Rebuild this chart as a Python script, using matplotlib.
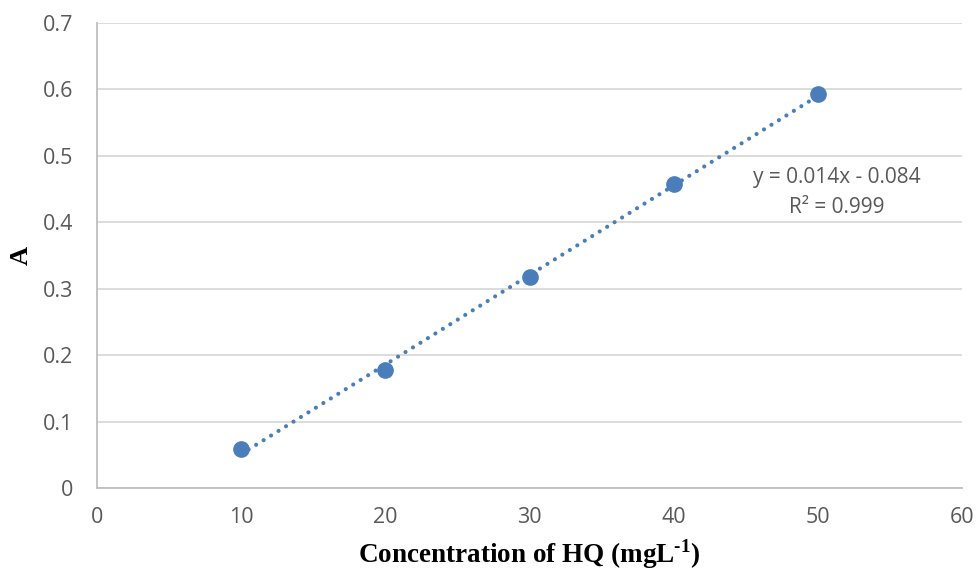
import numpy as np
import matplotlib
matplotlib.use("Agg")
import matplotlib.pyplot as plt

# Calibration data: hydroquinone concentration vs absorbance
concentration = [10, 20, 30, 40, 50]
absorbance = [0.059, 0.177, 0.317, 0.457, 0.593]
x_ticks = [0, 10, 20, 30, 40, 50, 60]
y_ticks = [0, 0.1, 0.2, 0.3, 0.4, 0.5, 0.6, 0.7]
equation_text = "y = 0.014x - 0.084"
r2_text = "R² = 0.999"

plt.rcParams["mathtext.fontset"] = "custom"
plt.rcParams["mathtext.bf"] = "Liberation Serif:bold"
plt.rcParams["mathtext.rm"] = "Liberation Serif:bold"

blue = "#4a7ebb"
grey_text = "#595959"
grid_col = "#d9d9d9"

fig = plt.figure(figsize=(9.76, 5.71), dpi=100)
ax = fig.add_axes([0.0994, 0.1454, 0.8863, 0.8143])

# linear trendline fitted to the points
slope, intercept = np.polyfit(concentration, absorbance, 1)
xs = np.array([min(concentration), max(concentration)])
ax.plot(xs, slope * xs + intercept, linestyle=(0, (0.01, 2.1)), color=blue,
        linewidth=3.0, dash_capstyle="round", zorder=2)

ax.plot(concentration, absorbance, "o", color=blue, markersize=11, zorder=3)

ax.set_xlim(0, 60)
ax.set_ylim(0, 0.7)
ax.set_xticks(x_ticks)
ax.set_yticks(y_ticks)
ax.set_xticklabels([str(v) for v in x_ticks])
ax.set_yticklabels(["0" if v == 0 else f"{v:.1f}" for v in y_ticks])

ax.grid(axis="y", color=grid_col, linewidth=1.3)
ax.set_axisbelow(True)
for side in ("top", "right"):
    ax.spines[side].set_visible(False)
for side in ("left", "bottom"):
    ax.spines[side].set_color("#bfbfbf")
    ax.spines[side].set_linewidth(1.3)
ax.tick_params(length=0, labelsize=15.5, labelcolor=grey_text)
ax.tick_params(axis="y", pad=17)
ax.tick_params(axis="x", pad=14)
for lab in ax.get_xticklabels() + ax.get_yticklabels():
    lab.set_family("Open Sans")

ax.set_xlabel(r"Concentration of HQ (mgL$^{\mathbf{\text{-}1}}$)", fontsize=19.5,
              fontweight="bold", family="Liberation Serif", labelpad=6)
ylab = ax.set_ylabel("A", fontsize=19, fontweight="bold", family="Liberation Serif")
ylab.set_verticalalignment("center")
ax.yaxis.set_label_coords(-0.088, 0.5)

ax.text(51.3, 0.467, equation_text, ha="center", va="center", fontsize=15,
        color=grey_text, family="Open Sans")
ax.text(51.3, 0.423, r2_text, ha="center", va="center", fontsize=15,
        color=grey_text, family="Open Sans")

fig.savefig("out.png", dpi=100)
